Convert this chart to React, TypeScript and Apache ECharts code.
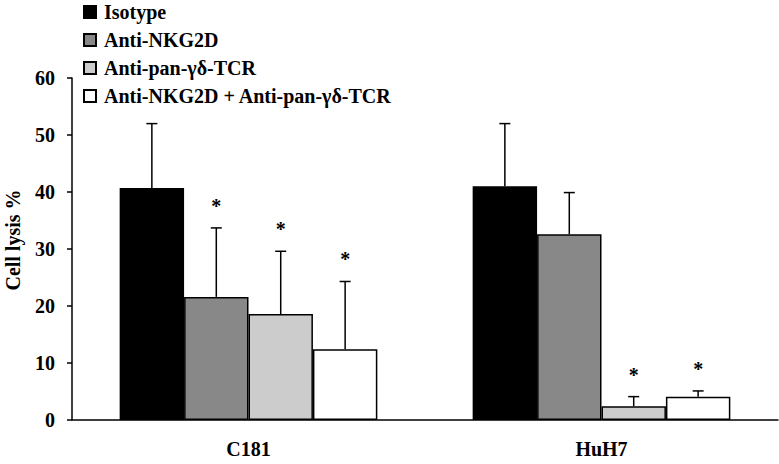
import React, { useEffect, useRef } from "react";
import * as echarts from "echarts";

const categories = ["C181", "HuH7"];
const seriesNames = [
  "Isotype",
  "Anti-NKG2D",
  "Anti-pan-γδ-TCR",
  "Anti-NKG2D + Anti-pan-γδ-TCR",
];
const yTitle = "Cell lysis %";
const isotype = [40.7, 41.0];
const antiNKG2D = [21.6, 32.6];
const antiPan = [18.6, 2.4];
const combined = [12.4, 4.1];
const isotypeSD = [11.3, 11.0];
const antiNKG2DSD = [12.1, 7.3];
const antiPanSD = [11.0, 1.7];
const combinedSD = [11.9, 1.0];
const isotypeSig = [0, 0];
const antiNKG2DSig = [1, 0];
const antiPanSig = [1, 1];
const combinedSig = [1, 1];
const yTicks = [0, 10, 20, 30, 40, 50, 60];

const FONT = '"Liberation Serif", "Times New Roman", serif';

export default function App() {
  const ref = useRef<HTMLDivElement>(null);
  useEffect(() => {
    if (!ref.current) return;
    const chart = echarts.init(ref.current, undefined, { renderer: "svg" });
    const values = [isotype, antiNKG2D, antiPan, combined];
    const sds = [isotypeSD, antiNKG2DSD, antiPanSD, combinedSD];
    const sigs = [isotypeSig, antiNKG2DSig, antiPanSig, combinedSig];
    const colors = ["#000000", "#888888", "#cccccc", "#ffffff"];
    const errData: number[][] = [];
    values.forEach((arr, s) =>
      arr.forEach((v, c) => errData.push([c, s, v, sds[s][c], sigs[s][c]]))
    );
    const gapFrac = 0.27;
    chart.setOption({
      animation: false,
      backgroundColor: "#ffffff",
      textStyle: { fontFamily: FONT },
      legend: {
        data: seriesNames,
        orient: "vertical",
        left: 83,
        top: 2,
        padding: 0,
        itemWidth: 12,
        itemHeight: 12,
        itemGap: 8,
        icon: "rect",
        selectedMode: false,
        textStyle: {
          fontFamily: FONT,
          fontWeight: "bold",
          fontSize: 20,
          color: "#000",
          padding: [0, 0, 0, 3],
        },
      },
      graphic: [
        {
          type: "text",
          x: 12.5,
          y: 240,
          rotation: Math.PI / 2,
          style: {
            text: yTitle,
            fontFamily: FONT,
            fontWeight: "bold",
            fontSize: 20,
            fill: "#000",
            align: "center",
            verticalAlign: "middle",
          },
        },
      ],
      grid: { left: 72, right: 1, top: 78, bottom: 44 },
      xAxis: {
        type: "category",
        data: categories,
        axisLine: { lineStyle: { color: "#000", width: 1.5 } },
        axisTick: { show: false },
        axisLabel: {
          fontFamily: FONT,
          fontWeight: "bold",
          fontSize: 20,
          color: "#000",
          margin: 19,
        },
      },
      yAxis: {
        type: "value",
        min: yTicks[0],
        max: yTicks[yTicks.length - 1],
        interval: 10,
        axisLine: { show: true, lineStyle: { color: "#000", width: 1.5 } },
        axisTick: { show: true, length: 5, lineStyle: { color: "#000", width: 1.5 } },
        splitLine: { show: false },
        axisLabel: {
          fontFamily: FONT,
          fontWeight: "bold",
          fontSize: 20,
          color: "#000",
          margin: 17,
        },
      },
      series: [
        ...values.map((arr, s) => ({
          name: seriesNames[s],
          type: "bar",
          data: arr,
          barGap: "0%",
          barCategoryGap: gapFrac * 100 + "%",
          itemStyle: { color: colors[s], borderColor: "#000", borderWidth: 1.5 },
        })),
        {
          type: "custom",
          z: 10,
          data: errData,
          encode: { x: 0, y: 2 },
          renderItem: (params: any, api: any) => {
            const cat = api.value(0);
            const s = api.value(1);
            const v = api.value(2);
            const sd = api.value(3);
            const sig = api.value(4);
            const band = api.size([1, 0])[0];
            const bw = (band * (1 - gapFrac)) / 4;
            const cx = api.coord([cat, 0])[0] + (s - 1.5) * bw;
            const yBar = api.coord([cat, v])[1];
            const yTop = api.coord([cat, v + sd])[1];
            const st = { stroke: "#000", lineWidth: 1.5 };
            const children: any[] = [
              { type: "line", shape: { x1: cx, y1: yBar, x2: cx, y2: yTop }, style: st },
              { type: "line", shape: { x1: cx - 5.5, y1: yTop, x2: cx + 5.5, y2: yTop }, style: st },
            ];
            if (sig) {
              children.push({
                type: "text",
                x: cx,
                y: yTop - 22,
                style: {
                  text: "*",
                  fontFamily: FONT,
                  fontWeight: "bold",
                  fontSize: 20,
                  fill: "#000",
                  align: "center",
                  verticalAlign: "middle",
                },
              });
            }
            return { type: "group", children };
          },
        },
      ],
    });
    return () => chart.dispose();
  }, []);
  return (
    <div
      ref={ref}
      style={{ position: "fixed", left: 0, top: 0, width: 779, height: 464 }}
    />
  );
}
